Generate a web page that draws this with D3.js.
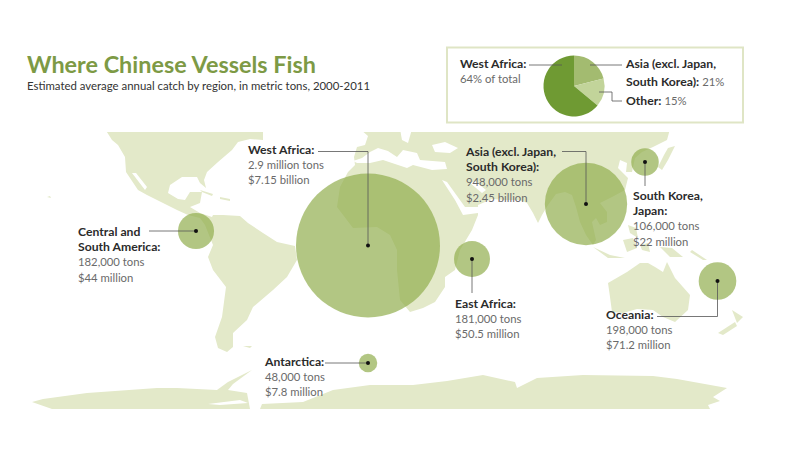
<!DOCTYPE html>
<html>
<head>
<meta charset="utf-8">
<script src="https://cdn.jsdelivr.net/npm/d3@7"></script>
<style>
  html, body { margin: 0; padding: 0; background: #fff; }
  svg { display: block; }
  text { font-family: Lato, "Open Sans", sans-serif; }
  .name { font-weight: 700; font-size: 12.2px; fill: #2b2b2b; }
  .value { font-size: 11.3px; fill: #6a6a6a; }
</style>
</head>
<body>
<script>
// values
const regions = ['West Africa', 'Central and South America', 'Antarctica', 'East Africa',
  'Asia (excl. Japan, South Korea)', 'South Korea, Japan', 'Oceania'];
const tons = [2900000, 182000, 48000, 181000, 948000, 106000, 198000];
const tonLabels = ['2.9 million tons', '182,000 tons', '48,000 tons', '181,000 tons',
  '948,000 tons', '106,000 tons', '198,000 tons'];
const valueLabels = ['$7.15 billion', '$44 million', '$7.8 million', '$50.5 million',
  '$2.45 billion', '$22 million', '$71.2 million'];
const lons = [-1, -87, -1, 51, 108, 137.5, 173.75];
const lats = [-1.25, 6, -60, -8, 19.5, 40.5, -19];

const pieNames = ['Asia', 'Other', 'West Africa'];
const pieShares = [21, 15, 64];

// rough land outlines, [lon, lat]
const land = [
  // the Americas
  [[-132.5,57],[-53.5,57],[-53.5,51.5],[-60,52],[-66,50.5],[-69,46.5],[-76,40.5],[-81.5,35.5],[-83,31.5],[-82,27.5],[-85,30],[-86.5,33],[-94,33],[-100,29],[-101,25],[-96,22],[-92.5,21.5],[-90,25.5],[-84,25.5],[-85,20],[-90,18],[-85,15],[-79,13],[-78.5,14],[-73.5,14],[-65,13.5],[-61,10],[-53.5,5],[-46.5,.5],[-37.5,-1.5],[-36.5,-8.5],[-41.5,-17],[-48.5,-23.5],[-58.5,-32],[-61.5,-38.5],[-68.5,-45],[-68.5,-52],[-71.5,-54.5],[-76,-52.5],[-77.5,-47],[-74,-37],[-72,-22],[-78.5,-13.5],[-81,-7],[-78.5,-1],[-82.5,9],[-85,12.5],[-91,14],[-96.5,16.5],[-103.5,20],[-111.5,24],[-116,26.5],[-122,35.5],[-122.5,43],[-126,49],[-129,51.5]],
  // Eurasia and Africa
  [[-5,57],[150,57],[148.5,51.5],[141.5,48],[136,45.5],[132.5,42.5],[131,35.5],[128,35.5],[128.5,40],[125,41.5],[124,37.5],[129,32.5],[127.5,26.5],[121,23],[115,20],[118.5,15.5],[118.5,10.5],[115,9],[113,12.5],[111,10.5],[113,1.5],[111.5,-1],[108,4],[105,10.5],[103,18],[101,24],[97.5,25.5],[93,24.5],[89,19],[86,14],[84,10],[81.5,15],[78.5,20],[75,21.5],[67.5,21.5],[61,22],[54,19],[54,14],[51,6.5],[45,-3.5],[42.5,-13.5],[37.5,-17],[37.5,-22],[32.5,-29.5],[26.5,-32.5],[20,-34.5],[15,-28.5],[13.5,-13.5],[13.5,-3.5],[10,4],[3.5,8],[-8.5,7.5],[-16.5,18],[-15,28],[-11,35.5],[-7.5,39],[-8,43],[-6.5,48],[-2.5,49],[-1,53.5]],
  // Australia
  [[119,-20],[128.5,-14.5],[135,-10],[139,-10],[142.5,-12],[146.5,-14.5],[148.5,-9.5],[152.5,-17.5],[160,-26],[159,-33.5],[152.5,-39.5],[146.5,-37],[141.5,-33.5],[133.5,-33],[126.5,-35],[121,-34.5],[120,-27]],
  // Antarctica, split by the gap in the source map
  [[-169,-79.5],[-163.5,-78],[-141.5,-75],[-106.5,-72.5],[-96.5,-72.5],[-76.5,-73.5],[-71,-69.5],[-59,-63.5],[-68.5,-70.5],[-71,-73.5],[-61.5,-75],[-60,-83],[-159,-83]],
  [[-55,-83],[-54,-80.5],[-33.5,-79.5],[-18.5,-73.5],[0,-71],[21.5,-71],[38.5,-69],[56.5,-66],[72.5,-69.5],[73.5,-72.5],[83.5,-67.5],[106.5,-66],[141.5,-66.5],[153.5,-68],[178.5,-72.5],[171.5,-77],[175,-79],[169,-81],[170,-83]],
  // islands
  [[-85,26.5],[-78.5,24.5],[-79,23.5],[-84,25.5]],
  [[-75,23],[-70,22],[-70,21],[-75,22]],
  [[-161.5,23],[-160,23.5],[-159.5,22.5]],
  [[-63.5,-51.5],[-59,-51.5],[-60,-52.5]],
  [[111.5,-2],[120,-6],[127.5,-7.5],[119,-7.5]],
  [[126.5,1.5],[131.5,2.5],[133.5,-2.5],[128.5,-4.5]],
  [[129,9],[133,7.5],[134,2.5],[130,5]],
  [[135,-1],[139,0],[140,-4.5],[136,-3.5]],
  [[145,-2],[151,-2.5],[156.5,-7],[150,-7]],
  [[161,-3.5],[168.5,-8.5],[166.5,-8.5],[160,-4.5]],
  [[144,38],[147,44],[149,47.5],[152.5,48.5],[151,45.5],[149,41.5],[146,36.5]],
  [[181,-33.5],[186.5,-37],[183.5,-40]],
  [[174,-45],[182.5,-39.5],[183.5,-41.5],[176.5,-46]]
];

// seas cut out of the land
const water = [
  [[-8.5,41],[-4,42.5],[0,45.5],[4,47.5],[9,46],[13.5,43],[16.5,46.5],[23.5,45],[25,41.5],[37.5,40.5],[38.5,37],[31,36.5],[21.5,39],[18.5,37.5],[6.5,41.5],[0,40],[-6.5,40]],
  [[31,49],[37.5,50.5],[44,47.5],[40,45],[32.5,45.5]],
  [[15,57],[21,57],[19,50],[16,51.5]],
  [[36,31.5],[38.5,30.5],[47.5,18],[56,18],[54,15],[46.5,14],[42.5,21.5]],
  [[50,30],[56,25],[58,26.5],[52.5,31]],
  [[-119,35],[-112.5,26.5],[-111.5,28],[-117,35]],
  [[-81,-80.5],[-65,-78.5],[-61,-80],[-75,-81]]
];

const width = 800;
const height = 450;

const svg = d3.select('body').append('svg')
    .attr('width', width)
    .attr('height', height);

const x = d3.scaleLinear().domain([-180, 180]).range([10, 730]);
const y = d3.scaleLinear().domain([-90, 90]).range([423, 63]);
const r = d3.scaleSqrt().domain([0, 2900000]).range([0, 72]);

const outline = d3.line().x(d => x(d[0])).y(d => y(d[1]));

svg.append('clipPath').attr('id', 'map-clip')
  .append('rect')
    .attr('x', 0)
    .attr('y', 132)
    .attr('width', width)
    .attr('height', 277);

const map = svg.append('g').attr('clip-path', 'url(#map-clip)');

map.selectAll('.land').data(land).enter().append('path')
    .attr('class', 'land')
    .attr('d', d => outline(d) + 'Z')
    .attr('fill', '#e3e9c9');

map.selectAll('.water').data(water).enter().append('path')
    .attr('class', 'water')
    .attr('d', d => outline(d) + 'Z')
    .attr('fill', '#fff');

// title
svg.append('text')
    .attr('x', 27)
    .attr('y', 73)
    .attr('font-size', 23.4)
    .attr('font-weight', 700)
    .attr('fill', '#7d9a45')
    .text('Where Chinese Vessels Fish');

svg.append('text')
    .attr('x', 27)
    .attr('y', 90)
    .attr('font-size', 11.4)
    .attr('fill', '#333')
    .text('Estimated average annual catch by region, in metric tons, 2000-2011');

// bubbles
const points = regions.map((name, i) => ({
  name, tons: tons[i], px: x(lons[i]), py: y(lats[i])
}));

svg.selectAll('.bubble').data(points).enter().append('circle')
    .attr('class', 'bubble')
    .attr('cx', d => d.px)
    .attr('cy', d => d.py)
    .attr('r', d => r(d.tons))
    .attr('fill', '#92ae4e')
    .attr('fill-opacity', .7);

// label placement, same order as regions
const labelLayout = [
  { x: 248, y: 154, name: ['West Africa:'], leader: [[318, 151.5], [null, 151.5]] },
  { x: 78, y: 236, name: ['Central and', 'South America:'], leader: [[149, null]] },
  { x: 265, y: 366, name: ['Antarctica:'], leader: [[325, null]] },
  { x: 455, y: 308, name: ['East Africa:'], leader: [[null, 293]] },
  { x: 466, y: 156, name: ['Asia (excl. Japan,', 'South Korea):'], leader: [[562, 151.5], [null, 151.5]] },
  { x: 633, y: 200, name: ['South Korea,', 'Japan:'], leader: [[null, 186]] },
  { x: 606, y: 319, name: ['Oceania:'], leader: [[657, 316.5], [null, 316.5]] }
];

const lineHeight = 15.2;
const leaderLine = d3.line();

labelLayout.forEach((l, i) => {
  const p = points[i];
  const lines = l.name.map(t => ({ t, cls: 'name' }))
    .concat([{ t: tonLabels[i], cls: 'value' }, { t: valueLabels[i], cls: 'value' }]);

  svg.append('g').selectAll('text').data(lines).enter().append('text')
      .attr('class', d => d.cls)
      .attr('x', l.x)
      .attr('y', (d, n) => l.y + n * lineHeight)
      .text(d => d.t);

  const path = l.leader.map(c => [c[0] === null ? p.px : c[0], c[1] === null ? p.py : c[1]]);
  path.push([p.px, p.py]);

  svg.append('path')
      .attr('d', leaderLine(path))
      .attr('fill', 'none')
      .attr('stroke', '#555')
      .attr('stroke-width', .8);

  svg.append('circle')
      .attr('cx', p.px)
      .attr('cy', p.py)
      .attr('r', 2)
      .attr('fill', '#111');
});

// pie box
svg.append('rect')
    .attr('x', 447)
    .attr('y', 47.5)
    .attr('width', 296)
    .attr('height', 75)
    .attr('fill', '#fff')
    .attr('stroke', '#dfe5c5')
    .attr('stroke-width', 2);

const pieColor = d3.scaleOrdinal().domain(pieNames).range(['#a3bb70', '#c2d49a', '#6f9a33']);
const pie = d3.pie().sort(null).value(d => d.share);
const arc = d3.arc().innerRadius(0).outerRadius(30.5);

const pieG = svg.append('g').attr('transform', 'translate(574, 86)');

pieG.selectAll('path')
  .data(pie(pieNames.map((name, i) => ({ name, share: pieShares[i] }))))
  .enter().append('path')
    .attr('d', arc)
    .attr('fill', d => pieColor(d.data.name));

const pieLeaders = [
  [[529, 65], [562, 65]],
  [[590, 65], [622, 65]],
  [[599, 92], [612, 92], [612, 101], [622, 101]]
];

svg.selectAll('.pie-leader').data(pieLeaders).enter().append('path')
    .attr('class', 'pie-leader')
    .attr('d', leaderLine)
    .attr('fill', 'none')
    .attr('stroke', '#555')
    .attr('stroke-width', .8);

const pieText = svg.append('g');

pieText.append('text').attr('class', 'name').attr('x', 460).attr('y', 68).text('West Africa:');
pieText.append('text').attr('class', 'value').attr('x', 460).attr('y', 83).text(`${pieShares[2]}% of total`);
pieText.append('text').attr('class', 'name').attr('x', 626).attr('y', 68).text('Asia (excl. Japan,');

const asiaLine = pieText.append('text').attr('x', 626).attr('y', 86);
asiaLine.append('tspan').attr('class', 'name').text('South Korea): ');
asiaLine.append('tspan').attr('class', 'value').text(`${pieShares[0]}%`);

const otherLine = pieText.append('text').attr('x', 626).attr('y', 105);
otherLine.append('tspan').attr('class', 'name').text('Other: ');
otherLine.append('tspan').attr('class', 'value').text(`${pieShares[1]}%`);
</script>
</body>
</html>
